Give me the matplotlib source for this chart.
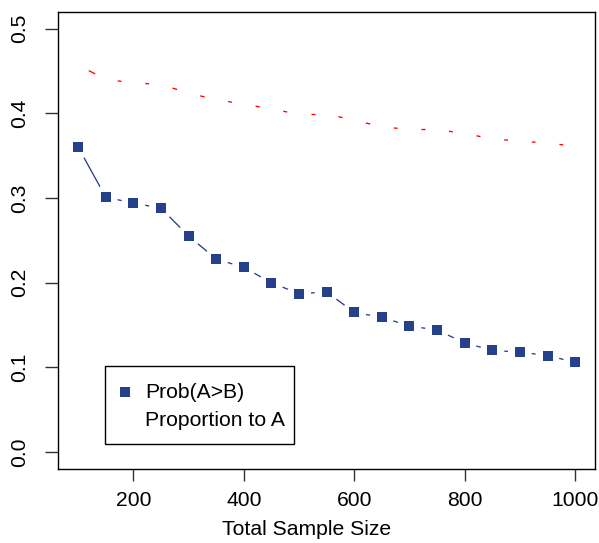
import numpy as np
import matplotlib
matplotlib.use("Agg")
import matplotlib.pyplot as plt
from matplotlib.patches import Rectangle

plt.rcParams['font.family'] = ['Liberation Sans', 'DejaVu Sans']

sample_size = [100, 150, 200, 250, 300, 350, 400, 450, 500, 550,
               600, 650, 700, 750, 800, 850, 900, 950, 1000]
prob_a_gt_b = [0.360, 0.301, 0.294, 0.288, 0.255, 0.228, 0.218, 0.200, 0.187, 0.189,
               0.165, 0.159, 0.149, 0.144, 0.129, 0.120, 0.118, 0.114, 0.106]
prop_to_a = [0.457, 0.440, 0.436, 0.434, 0.424, 0.416, 0.411, 0.405, 0.399, 0.399,
             0.392, 0.384, 0.381, 0.381, 0.376, 0.370, 0.367, 0.365, 0.361]
x_ticks = [200, 400, 600, 800, 1000]
y_ticks = [0.0, 0.1, 0.2, 0.3, 0.4, 0.5]
y_tick_labels = ["0.0", "0.1", "0.2", "0.3", "0.4", "0.5"]
legend_labels = ["Prob(A>B)", "Proportion to A"]
x_label = "Total Sample Size"

BLUE = "#27408B"
RED = "#FF0000"
FS = 15.2

W, H = 599, 543
fig = plt.figure(figsize=(W / 100, H / 100), dpi=100)
L, R, T, B = 58.3, 595.0, 11.7, 469.0
ax = fig.add_axes([L / W, (H - B) / H, (R - L) / W, (B - T) / H])
ax.set_xlim(64, 1036)
ax.set_ylim(-0.02, 0.52)


def type_b(ax, xs, ys, color, gap_px=12.0, lw=0.95):
    """Emulate R type='b': segments between points with gaps around points."""
    trans = ax.transData
    inv = trans.inverted()
    pts = trans.transform(np.column_stack([xs, ys]))
    for p0, p1 in zip(pts[:-1], pts[1:]):
        d = p1 - p0
        n = np.hypot(*d)
        if n <= 2 * gap_px:
            continue
        u = d / n
        a = p0 + u * gap_px
        b = p1 - u * gap_px
        da = inv.transform([a, b])
        ax.plot(da[:, 0], da[:, 1], color=color, lw=lw, solid_capstyle='butt')


type_b(ax, sample_size, prop_to_a, RED)
type_b(ax, sample_size, prob_a_gt_b, BLUE)
ax.plot(sample_size, prob_a_gt_b, linestyle='none', marker='s', markersize=7.2,
        markeredgewidth=0, color=BLUE)

ax.set_xticks(x_ticks)
ax.set_xticklabels([str(v) for v in x_ticks], fontsize=FS)
ax.set_yticks(y_ticks)
ax.set_yticklabels(y_tick_labels, fontsize=FS, rotation=90, va='center')
ax.tick_params(axis='x', length=8.6, width=1.0, pad=7.5, color='#333333')
ax.tick_params(axis='y', length=9.4, width=1.0, pad=11.5, color='#333333')
for s in ax.spines.values():
    s.set_linewidth(1.0)
    s.set_color('black')


def px2ax(px, py):
    return (px - L) / (R - L), (B - py) / (B - T)


ax.set_xlabel(x_label, fontsize=FS)
ax.xaxis.set_label_coords(*px2ax(307, 520))

# legend box (R style)
x0, y1 = px2ax(105, 366)
x1, y0 = px2ax(294, 444)
ax.add_patch(Rectangle((x0, y0), x1 - x0, y1 - y0, transform=ax.transAxes,
                       facecolor='white', edgecolor='black', lw=1.0, zorder=5))
mx, my1 = px2ax(125, 392)
_, my2 = px2ax(125, 420)
tx, _ = px2ax(145, 392)
ax.plot([mx], [my1], transform=ax.transAxes, marker='s', markersize=7.2,
        markeredgewidth=0, color=BLUE, zorder=6, clip_on=False)
ax.text(tx, my1, legend_labels[0], transform=ax.transAxes, fontsize=FS,
        va='center', ha='left', zorder=6)
ax.text(tx, my2, legend_labels[1], transform=ax.transAxes, fontsize=FS,
        va='center', ha='left', zorder=6)

fig.savefig("out.png", dpi=100)
